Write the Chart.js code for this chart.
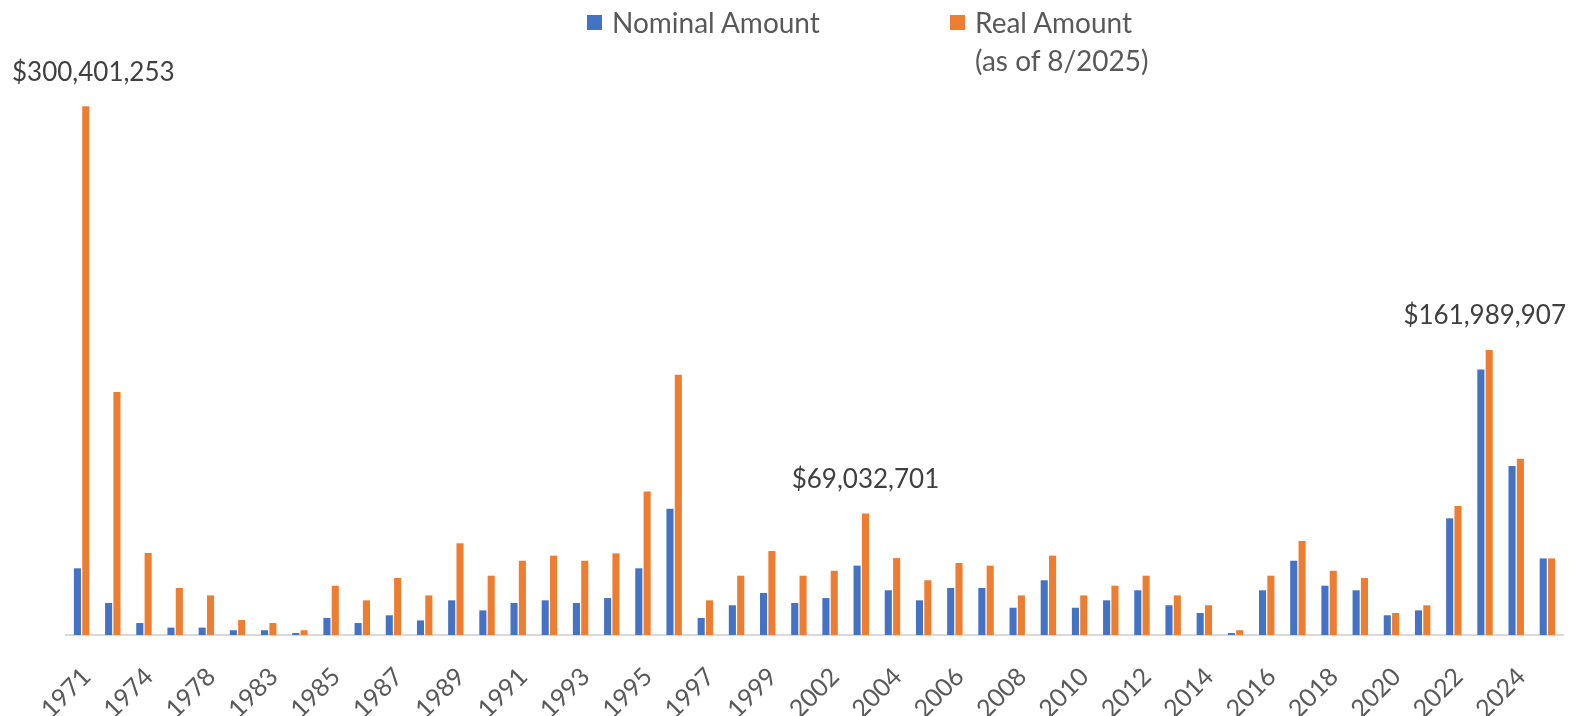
<!DOCTYPE html>
<html>
<head>
<meta charset="utf-8">
<script src="https://cdn.jsdelivr.net/npm/chart.js@4.4.1/dist/chart.umd.min.js"></script>
<style>
  html, body { margin: 0; padding: 0; background: #ffffff; }
  #wrap { position: relative; width: 1572px; height: 716px; font-family: Lato, "Open Sans", sans-serif; }
  canvas { position: absolute; left: 0; top: 0; }
  .leg { position: absolute; color: #595959; font-size: 28px; line-height: 38px; white-space: nowrap; }
  .sw { position: absolute; width: 15px; height: 15px; }
</style>
</head>
<body>
<div id="wrap">
  <canvas id="c" width="1572" height="716"></canvas>
  <div class="sw" style="left:587px; top:15px; background:#4472C4;"></div>
  <div class="leg" style="left:612px; top:3px;">Nominal Amount</div>
  <div class="sw" style="left:950px; top:15px; background:#ED7D31;"></div>
  <div class="leg" style="left:975px; top:3px;">Real Amount<br>(as of 8/2025)</div>
</div>
<script>
const years = ['1971','1972','1974','1976','1978','1980','1983','1984','1985','1986','1987','1988','1989','1990','1991','1992','1993','1994','1995','1996','1997','1998','1999','2000','2002','2003','2004','2005','2006','2007','2008','2009','2010','2011','2012','2013','2014','2015','2016','2017','2018','2019','2020','2021','2022','2023','2024','2025'];

const nominalAmount = [37900000,18200000,6800000,4200000,4200000,2700000,2700000,1100000,9700000,6800000,11200000,8300000,19700000,14000000,18200000,19700000,18200000,21000000,37900000,71700000,9700000,16900000,23900000,18200000,21000000,39400000,25400000,19700000,26700000,26700000,15500000,31100000,15500000,19700000,25400000,16900000,12500000,1100000,25400000,42200000,28000000,25400000,11200000,14000000,66300000,150900000,96000000,43500000];

const realAmount = [300401253,138000000,46600000,26700000,22500000,8500000,6800000,2700000,28000000,19700000,32400000,22500000,52100000,33700000,42200000,45100000,42200000,46400000,81600000,147800000,19700000,33700000,47700000,33700000,36500000,69032701,43700000,31100000,40900000,39400000,22500000,45100000,22500000,28000000,33700000,22500000,16900000,2700000,33700000,53400000,36500000,32400000,12500000,16900000,73300000,161989907,100100000,43500000];

const labeledYears = ['1971','2003','2023'];

const fmt = v => '$' + Math.round(v).toLocaleString('en-US');

const dataLabelPlugin = {
  id: 'dataLabels',
  afterDatasetsDraw(chart) {
    const ctx = chart.ctx;
    const meta = chart.getDatasetMeta(1);
    ctx.save();
    ctx.font = '26px Lato, "Open Sans", sans-serif';
    ctx.fillStyle = '#404040';
    ctx.textAlign = 'center';
    ctx.textBaseline = 'middle';
    labeledYears.forEach(y => {
      const i = years.indexOf(y);
      const el = meta.data[i];
      const txt = fmt(realAmount[i]);
      const w = ctx.measureText(txt).width;
      let x = el.x;
      x = Math.max(x, 12 + w / 2);
      x = Math.min(x, 1566 - w / 2);
      ctx.fillText(txt, x, el.y - 34);
    });
    ctx.restore();
  }
};

new Chart(document.getElementById('c'), {
  type: 'bar',
  data: {
    labels: years,
    datasets: [
      { label: 'Nominal Amount', data: nominalAmount, backgroundColor: '#4472C4', borderWidth: 0 },
      { label: 'Real Amount (as of 8/2025)', data: realAmount, backgroundColor: '#ED7D31', borderWidth: 0 }
    ]
  },
  options: {
    responsive: false,
    animation: false,
    datasets: { bar: { categoryPercentage: 0.535, barPercentage: 0.85 } },
    layout: { padding: { top: 19, left: 66, right: 9, bottom: 0 } },
    plugins: { legend: { display: false }, tooltip: { enabled: false } },
    scales: {
      x: {
        grid: { display: false, drawTicks: false },
        border: { display: true, color: '#D9D9D9', width: 2 },
        ticks: {
          autoSkip: false,
          minRotation: 45,
          maxRotation: 45,
          padding: 27,
          labelOffset: 5,
          color: '#595959',
          font: { family: 'Lato, "Open Sans", sans-serif', size: 25 },
          callback: function(value, index) { return index % 2 === 0 ? this.getLabelForValue(value) : ''; }
        },
        afterFit(scale) { scale.height = 81; scale.paddingLeft = 0; scale.paddingRight = 0; }
      },
      y: { display: false, min: 0, max: 350000000 }
    }
  },
  plugins: [dataLabelPlugin]
});
</script>
</body>
</html>
